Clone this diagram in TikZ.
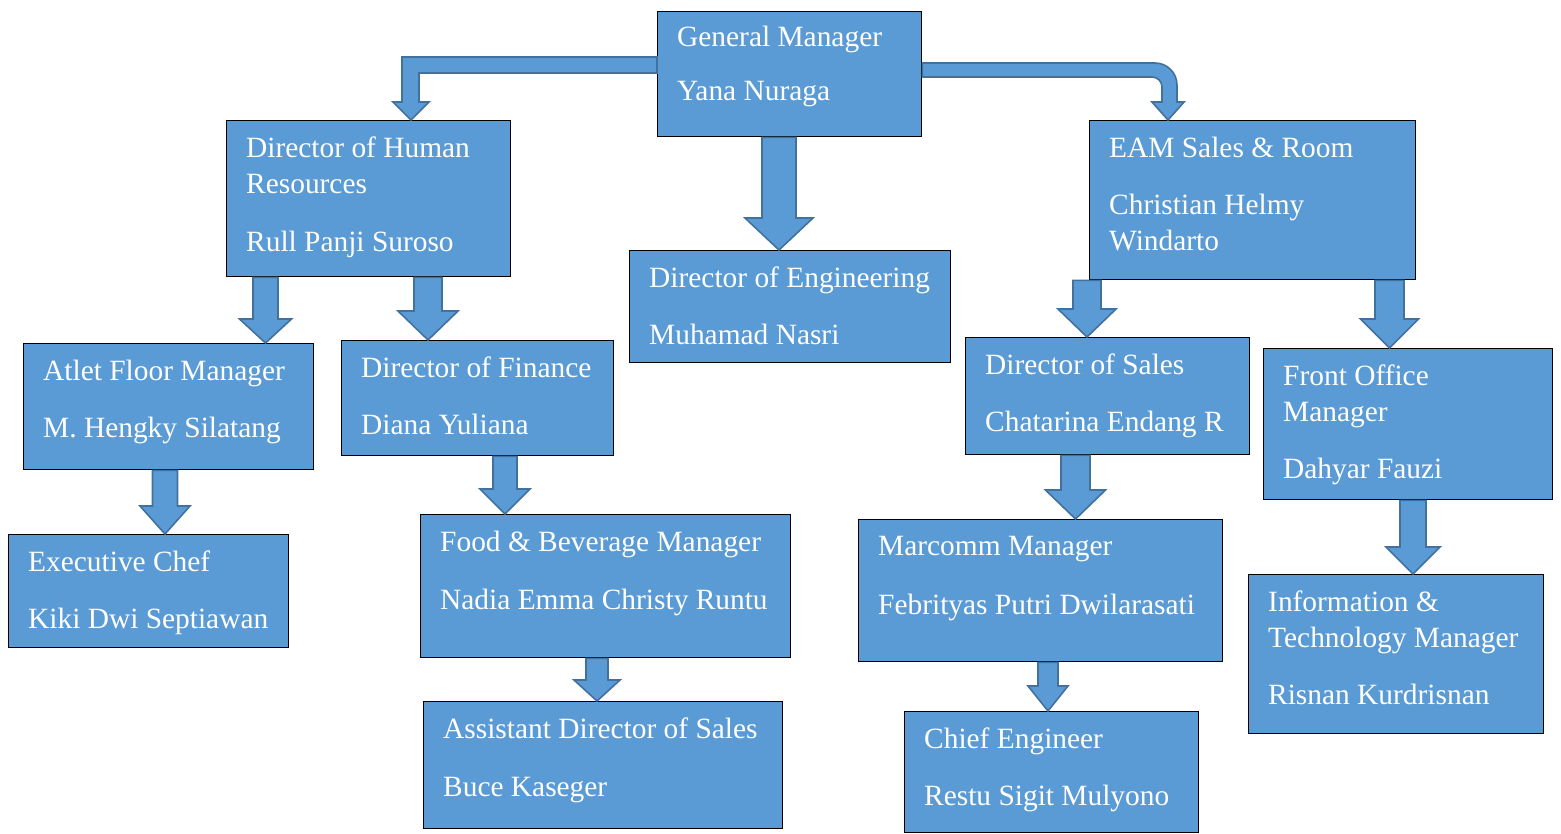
\documentclass[tikz,border=0pt]{standalone}
\usepackage{fontspec}
\setmainfont{Liberation Serif}
\usetikzlibrary{calc}
\definecolor{orgblue}{RGB}{91,155,213}
\definecolor{orgedge}{RGB}{65,113,156}

% straight block arrow: from, to, x, shaft half width, head half width, head length
\newcommand{\blockdown}[6]{%
  \draw[blockarr] let \p1=(#1.south), \p2=(#2.north) in
    (#3-#4,\y1) -- (#3+#4,\y1) -- (#3+#4,\y2+#6) -- (#3+#5,\y2+#6)
    -- (#3,\y2) -- (#3-#5,\y2+#6) -- (#3-#4,\y2+#6) -- cycle;}

\begin{document}
\begin{tikzpicture}[x=1pt, y=1pt,
    unit/.style={rectangle, draw=black, line width=1.3pt, fill=orgblue, anchor=north west, inner sep=0pt},
    unittext/.style={anchor=north west, inner sep=0pt, align=left, text=white, font=\fontsize{29.4}{36}\selectfont},
    blockarr/.style={draw=orgedge, line width=1.6pt, fill=orgblue, line join=miter}
  ]
  \useasboundingbox (0,0) rectangle (1561,-833);

  % boxes
  \node[unit, minimum width=264, minimum height=125] (gm) at (657,-11) {};
  \node[unit, minimum width=284, minimum height=156] (hr) at (226,-120) {};
  \node[unit, minimum width=326, minimum height=159] (eam) at (1089,-120) {};
  \node[unit, minimum width=321, minimum height=112] (eng) at (629,-250) {};
  \node[unit, minimum width=290, minimum height=126] (atlet) at (23,-343) {};
  \node[unit, minimum width=272, minimum height=115] (fin) at (341,-340) {};
  \node[unit, minimum width=284, minimum height=117] (sales) at (965,-337) {};
  \node[unit, minimum width=289, minimum height=151] (fo) at (1263,-348) {};
  \node[unit, minimum width=280, minimum height=113] (chef) at (8,-534) {};
  \node[unit, minimum width=370, minimum height=143] (fb) at (420,-514) {};
  \node[unit, minimum width=364, minimum height=142] (mc) at (858,-519) {};
  \node[unit, minimum width=295, minimum height=159] (it) at (1248,-574) {};
  \node[unit, minimum width=359, minimum height=127] (asst) at (423,-701) {};
  \node[unit, minimum width=294, minimum height=121] (chief) at (904,-711) {};

  % texts
  \node[unittext] (gm-t) at ([shift={(20,-15)}]gm.north west) {General Manager\\[18pt]Yana Nuraga};
  \node[unittext] (hr-t) at ([shift={(20,-17)}]hr.north west) {Director of Human\\Resources\\[22pt]Rull Panji Suroso};
  \node[unittext] (eam-t) at ([shift={(20,-17)}]eam.north west) {EAM Sales \& Room\\[21pt]Christian Helmy\\Windarto};
  \node[unittext] (eng-t) at ([shift={(20,-17)}]eng.north west) {Director of Engineering\\[21pt]Muhamad Nasri};
  \node[unittext] (atlet-t) at ([shift={(20,-17)}]atlet.north west) {Atlet Floor Manager\\[21pt]M. Hengky Silatang};
  \node[unittext] (fin-t) at ([shift={(20,-17)}]fin.north west) {Director of Finance\\[21pt]Diana Yuliana};
  \node[unittext] (sales-t) at ([shift={(20,-17)}]sales.north west) {Director of Sales\\[21pt]Chatarina Endang R};
  \node[unittext] (fo-t) at ([shift={(20,-17)}]fo.north west) {Front Office\\Manager\\[21pt]Dahyar Fauzi};
  \node[unittext] (chef-t) at ([shift={(20,-17)}]chef.north west) {Executive Chef\\[21pt]Kiki Dwi Septiawan};
  \node[unittext] (fb-t) at ([shift={(20,-17)}]fb.north west) {Food \& Beverage Manager\\[22pt]Nadia Emma Christy Runtu};
  \node[unittext] (mc-t) at ([shift={(20,-17)}]mc.north west) {Marcomm Manager\\[23pt]Febrityas Putri Dwilarasati};
  \node[unittext] (it-t) at ([shift={(20,-17)}]it.north west) {Information \&\\Technology Manager\\[21pt]Risnan Kurdrisnan};
  \node[unittext] (asst-t) at ([shift={(20,-17)}]asst.north west) {Assistant Director of Sales\\[22pt]Buce Kaseger};
  \node[unittext] (chief-t) at ([shift={(20,-17)}]chief.north west) {Chief Engineer\\[21pt]Restu Sigit Mulyono};

  % bent arrows out of the general manager
  \draw[blockarr] let \p1=(gm.north west), \p2=(hr.north) in
    (\x1,\y1-46) -- (402,\y1-46) -- (402,\y2+18) -- (393,\y2+18) -- (411,\y2)
    -- (429,\y2+18) -- (419,\y2+18) -- (419,\y1-62) -- (\x1,\y1-62) -- cycle;
  \draw[blockarr] let \p1=(gm.north east), \p2=(eam.north) in
    (\x1,\y1-52) -- (1155,\y1-52) arc[start angle=90, end angle=0, radius=22]
    -- (1177,\y2+18) -- (1184,\y2+18) -- (1168,\y2) -- (1152,\y2+18) -- (1162,\y2+18)
    -- (1162,\y1-76) arc[start angle=0, end angle=90, radius=10] -- (\x1,\y1-66) -- cycle;

  % straight arrows
  \blockdown{gm}{eng}{779}{17}{34}{32}
  \blockdown{hr}{atlet}{265.5}{12.5}{26}{24}
  \blockdown{hr}{fin}{428}{14}{30}{29}
  \blockdown{atlet}{chef}{165}{12.5}{25}{28}
  \blockdown{fin}{fb}{505}{12}{25}{25}
  \blockdown{fb}{asst}{597}{11}{23}{21}
  \blockdown{eam}{sales}{1087}{14}{29}{28}
  \blockdown{eam}{fo}{1389.5}{14.5}{29}{29}
  \blockdown{sales}{mc}{1075.5}{14.5}{30}{29}
  \blockdown{mc}{chief}{1048}{10}{20}{25}
  \blockdown{fo}{it}{1413}{13}{27}{27}
\end{tikzpicture}
\end{document}
